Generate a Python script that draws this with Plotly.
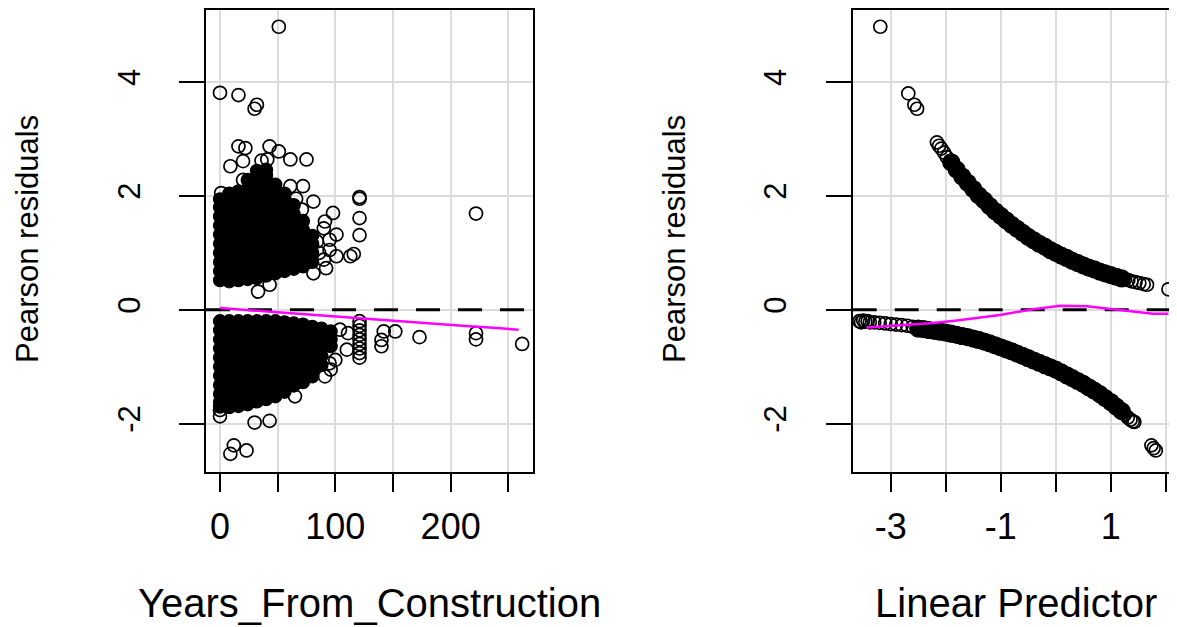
import plotly.graph_objects as go

# ---------------- data: left panel (Years_From_Construction) ----------------
# dense core of the positive-residual cloud
up_dense_x = ([0]*10 + [8]*11 + [16]*11 + [24]*12 + [32]*13 + [40]*13 +
              [48]*11 + [56]*10 + [64]*8 + [72]*6 + [80]*4)
up_dense_y = [0.52,0.68,0.84,1.00,1.16,1.32,1.48,1.64,1.80,1.94,
              0.50,0.66,0.82,0.98,1.14,1.30,1.46,1.62,1.78,1.94,2.04,
              0.52,0.68,0.84,1.00,1.16,1.32,1.48,1.64,1.80,1.96,2.08,
              0.54,0.70,0.86,1.02,1.18,1.34,1.50,1.66,1.82,1.98,2.12,2.28,
              0.56,0.72,0.88,1.04,1.20,1.36,1.52,1.68,1.84,2.00,2.16,2.32,2.44,
              0.60,0.76,0.92,1.08,1.24,1.40,1.56,1.72,1.88,2.04,2.20,2.36,2.46,
              0.64,0.80,0.96,1.12,1.28,1.44,1.60,1.76,1.92,2.08,2.20,
              0.68,0.84,1.00,1.16,1.32,1.48,1.64,1.80,1.94,2.04,
              0.72,0.88,1.04,1.20,1.36,1.52,1.68,1.84,
              0.76,0.92,1.08,1.24,1.40,1.56,
              0.84,1.00,1.16,1.30]

# dense core of the negative-residual cloud
lo_dense_x = ([0]*11 + [8]*11 + [16]*11 + [24]*11 + [32]*10 + [40]*10 +
              [48]*10 + [56]*9 + [64]*8 + [72]*8 + [80]*7 + [88]*5 + [96]*3)
lo_dense_y = [-0.20,-0.36,-0.52,-0.68,-0.84,-1.00,-1.16,-1.32,-1.48,-1.62,-1.70,
              -0.20,-0.36,-0.52,-0.68,-0.84,-1.00,-1.16,-1.32,-1.48,-1.62,-1.71,
              -0.20,-0.36,-0.52,-0.68,-0.84,-1.00,-1.16,-1.32,-1.48,-1.62,-1.69,
              -0.20,-0.36,-0.52,-0.68,-0.84,-1.00,-1.16,-1.32,-1.48,-1.60,-1.66,
              -0.20,-0.36,-0.52,-0.68,-0.84,-1.00,-1.16,-1.32,-1.48,-1.61,
              -0.20,-0.36,-0.52,-0.68,-0.84,-1.00,-1.16,-1.32,-1.46,-1.57,
              -0.20,-0.36,-0.52,-0.68,-0.84,-1.00,-1.16,-1.32,-1.44,-1.52,
              -0.22,-0.38,-0.54,-0.70,-0.86,-1.02,-1.18,-1.32,-1.44,
              -0.24,-0.40,-0.56,-0.72,-0.88,-1.04,-1.20,-1.33,
              -0.26,-0.42,-0.58,-0.74,-0.90,-1.06,-1.20,-1.27,
              -0.30,-0.46,-0.62,-0.78,-0.94,-1.08,-1.17,
              -0.33,-0.49,-0.65,-0.81,-0.97,
              -0.38,-0.52,-0.64]

# individually visible observations
yrs_open = [51, 0, 16, 32, 30,
            16, 22, 43, 51, 9, 20, 41, 61, 75, 36, 20, 1, 61, 72, 81, 71, 98, 91, 90,
            101, 95, 95, 101, 90, 113, 116, 92, 81, 43, 33, 66, 70, 84, 86,
            121, 121, 121, 121, 222,
            104, 111, 110, 95, 91, 96, 100, 65, 0, 0, 30, 43, 12, 23, 9,
            121, 121, 121, 121, 121, 121, 121, 121, 121,
            142, 152, 140, 140, 173, 222, 222, 262]
res_open = [4.97, 3.81, 3.77, 3.60, 3.53,
            2.87, 2.84, 2.87, 2.78, 2.52, 2.61, 2.64, 2.64, 2.64, 2.62, 2.28, 2.05, 2.17, 2.17, 1.90, 1.76, 1.70, 1.55, 1.43,
            1.32, 1.23, 1.05, 0.94, 0.88, 0.94, 0.98, 0.73, 0.64, 0.44, 0.32, 1.95, 1.50, 1.20, 1.00,
            1.95, 1.98, 1.61, 1.31, 1.69,
            -0.35, -0.41, -0.70, -0.94, -1.17, -1.05, -0.88, -1.52, -1.76, -1.87, -1.98, -1.95, -2.38, -2.47, -2.53,
            -0.20, -0.28, -0.36, -0.44, -0.52, -0.60, -0.68, -0.76, -0.84,
            -0.38, -0.38, -0.53, -0.64, -0.48, -0.41, -0.52, -0.60]

# smoother (magenta)
yrs_smooth = [0, 20, 40, 60, 80, 100, 120, 150, 180, 210, 240, 259]
res_smooth = [0.03, 0.00, -0.03, -0.06, -0.09, -0.12, -0.15, -0.20, -0.24, -0.28, -0.32, -0.35]

# ---------------- data: right panel (Linear Predictor) ----------------
lp_up_dense = [-1.9,-1.8,-1.7,-1.6,-1.5,-1.4,-1.3,-1.2,-1.1,-1.0,-0.9,-0.8,-0.7,-0.6,-0.5,-0.4,
               -0.3,-0.2,-0.1,0.0,0.1,0.2,0.3,0.4,0.5,0.6,0.7,0.8,0.9,1.0,1.1,1.2]
res_up_dense = [2.59,2.46,2.34,2.23,2.12,2.01,1.92,1.82,1.73,1.65,1.57,1.49,1.42,1.35,1.28,1.22,
                1.16,1.11,1.05,1.00,0.95,0.91,0.86,0.82,0.78,0.74,0.71,0.67,0.64,0.61,0.58,0.55]

lp_lo_dense = [-2.5,-2.4,-2.3,-2.2,-2.1,-2.0,-1.9,-1.8,-1.7,-1.6,-1.5,-1.4,-1.3,-1.2,-1.1,-1.0,
               -0.9,-0.8,-0.7,-0.6,-0.5,-0.4,-0.3,-0.2,-0.1,0.0,0.1,0.2,0.3,0.4,0.5,0.6,
               0.7,0.8,0.9,1.0,1.1,1.2]
res_lo_dense = [-0.33,-0.34,-0.355,-0.37,-0.385,-0.40,-0.42,-0.44,-0.46,-0.48,-0.505,-0.53,-0.56,-0.59,-0.625,-0.66,
                -0.695,-0.73,-0.77,-0.81,-0.85,-0.89,-0.93,-0.97,-1.01,-1.05,-1.10,-1.15,-1.20,-1.25,-1.30,-1.36,
                -1.42,-1.48,-1.55,-1.62,-1.70,-1.78]

lp_open = [-3.19, -2.68, -2.57, -2.52,
           -2.16, -2.12, -2.08, -2.03, -1.98,
           1.26, 1.32, 1.38, 1.45, 1.52, 1.60, 1.66, 2.05,
           -3.57, -3.54, -3.50, -3.46, -3.42, -3.38, -3.30, -3.20, -3.10, -3.00, -2.90, -2.80, -2.70, -2.60,
           1.26, 1.31, 1.36, 1.40, 1.43, 1.74, 1.78, 1.82]
res_open2 = [4.97, 3.80, 3.60, 3.53,
             2.94, 2.88, 2.83, 2.76, 2.68,
             0.535, 0.52, 0.50, 0.485, 0.47, 0.45, 0.44, 0.36,
             -0.20, -0.22, -0.19, -0.21, -0.20, -0.22, -0.22, -0.23, -0.24, -0.25, -0.26, -0.27, -0.28, -0.30,
             -1.84, -1.89, -1.93, -1.96, -1.97, -2.38, -2.43, -2.47]

lp_smooth = [-3.44, -2.8, -2.23, -1.8, -1.5, -1.01, -0.41, 0.08, 0.56, 1.08, 1.5, 1.77, 2.05]
res_smooth2 = [-0.31, -0.27, -0.23, -0.19, -0.15, -0.09, 0.01, 0.07, 0.06, 0.0, -0.04, -0.07, -0.07]

# ---------------- axes definitions ----------------
x1_range = [-12.14, 271.16]
x2_range = [-3.691, 2.205]
y_range = [-2.843, 5.264]
x1_ticks = [0, 50, 100, 150, 200, 250]
x1_text = ["0", "", "100", "", "200", ""]
x2_ticks = [-3, -2, -1, 0, 1, 2]
x2_text = ["-3", "", "-1", "", "1", ""]
y_ticks = [-2, 0, 2, 4]
y_text = ["-2", "0", "2", "4"]

FONT = "Liberation Sans, Arial, sans-serif"
OFF = 8                      # the page body margin of the html file
W, H = 1177 - OFF, 627 - OFF


def px_x(p):
    return (p - OFF) / W


def px_y(p):
    return 1 - (p - OFF) / H


fig = go.Figure()

open_marker = dict(symbol="circle-open", size=13, color="black", line=dict(width=1.7, color="black"))
fill_marker = dict(symbol="circle", size=13, color="black", line=dict(width=1.2, color="black"))
fill_marker2 = dict(symbol="circle", size=17, color="black", line=dict(width=1.2, color="black"))

# left panel
fig.add_trace(go.Scatter(x=up_dense_x, y=up_dense_y, mode="markers", marker=fill_marker,
                         xaxis="x", yaxis="y", hoverinfo="skip"))
fig.add_trace(go.Scatter(x=lo_dense_x, y=lo_dense_y, mode="markers", marker=fill_marker,
                         xaxis="x", yaxis="y", hoverinfo="skip"))
fig.add_trace(go.Scatter(x=yrs_open, y=res_open, mode="markers", marker=open_marker,
                         xaxis="x", yaxis="y"))
fig.add_trace(go.Scatter(x=x1_range, y=[0, 0], mode="lines",
                         line=dict(color="black", width=3, dash="24px,18px"),
                         xaxis="x", yaxis="y", hoverinfo="skip"))
fig.add_trace(go.Scatter(x=yrs_smooth, y=res_smooth, mode="lines",
                         line=dict(color="#FF00FF", width=2.5), xaxis="x", yaxis="y"))

# right panel
fig.add_trace(go.Scatter(x=lp_up_dense, y=res_up_dense, mode="markers", marker=fill_marker2,
                         xaxis="x2", yaxis="y2", hoverinfo="skip"))
fig.add_trace(go.Scatter(x=lp_lo_dense, y=res_lo_dense, mode="markers", marker=fill_marker2,
                         xaxis="x2", yaxis="y2", hoverinfo="skip"))
fig.add_trace(go.Scatter(x=lp_open, y=res_open2, mode="markers", marker=open_marker,
                         xaxis="x2", yaxis="y2"))
fig.add_trace(go.Scatter(x=x2_range, y=[0, 0], mode="lines",
                         line=dict(color="black", width=3, dash="24px,18px"),
                         xaxis="x2", yaxis="y2", hoverinfo="skip"))
fig.add_trace(go.Scatter(x=lp_smooth, y=res_smooth2, mode="lines",
                         line=dict(color="#FF00FF", width=2.5), xaxis="x2", yaxis="y2"))

common_x = dict(ticks="outside", ticklen=18, tickwidth=2, tickcolor="black",
                showline=True, linewidth=2, linecolor="black", mirror=True,
                showgrid=True, gridcolor="#DCDCDC", gridwidth=2, zeroline=False,
                tickfont=dict(family=FONT, size=36, color="black"),
                ticklabelstandoff=4, automargin=False, fixedrange=True)
common_y = dict(ticks="outside", ticklen=25, tickwidth=2, tickcolor="black",
                showline=True, linewidth=2, linecolor="black",
                showgrid=True, gridcolor="#DCDCDC", gridwidth=2, zeroline=False,
                tickangle=-90, tickvals=y_ticks, ticktext=y_text, range=y_range,
                tickfont=dict(family=FONT, size=31, color="black"),
                ticklabelstandoff=27, automargin=False, fixedrange=True,
                domain=[px_y(471.7), px_y(10)])

fig.update_layout(
    width=W, height=H, autosize=False,
    margin=dict(l=0, r=0, t=0, b=0, pad=0),
    paper_bgcolor="white", plot_bgcolor="white",
    showlegend=False,
    font=dict(family=FONT, color="black"),
    xaxis=dict(domain=[px_x(206), px_x(532.7)], range=x1_range, tickvals=x1_ticks,
               ticktext=x1_text, anchor="y", **common_x),
    xaxis2=dict(domain=[px_x(852.7), 1.0], range=x2_range, tickvals=x2_ticks,
                ticktext=x2_text, anchor="y2", **common_x),
    yaxis=dict(anchor="x", mirror=True, **common_y),
    yaxis2=dict(anchor="x2", mirror=False, **common_y),
)

title_font_y = dict(family=FONT, size=31, color="black")
title_font_x = dict(family=FONT, size=40, color="black")
ann = [
    dict(text="Pearson residuals", x=px_x(27), y=px_y(239), textangle=-90, font=title_font_y),
    dict(text="Pearson residuals", x=px_x(674), y=px_y(239), textangle=-90, font=title_font_y),
    dict(text="Years_From_Construction", x=px_x(369.4), y=px_y(603), font=title_font_x),
    dict(text="Linear Predictor", x=px_x(1016), y=px_y(603), font=title_font_x),
]
for a in ann:
    fig.add_annotation(xref="paper", yref="paper", xanchor="center", yanchor="middle",
                       showarrow=False, **a)

fig.write_html("out.html", config={"displayModeBar": False})
